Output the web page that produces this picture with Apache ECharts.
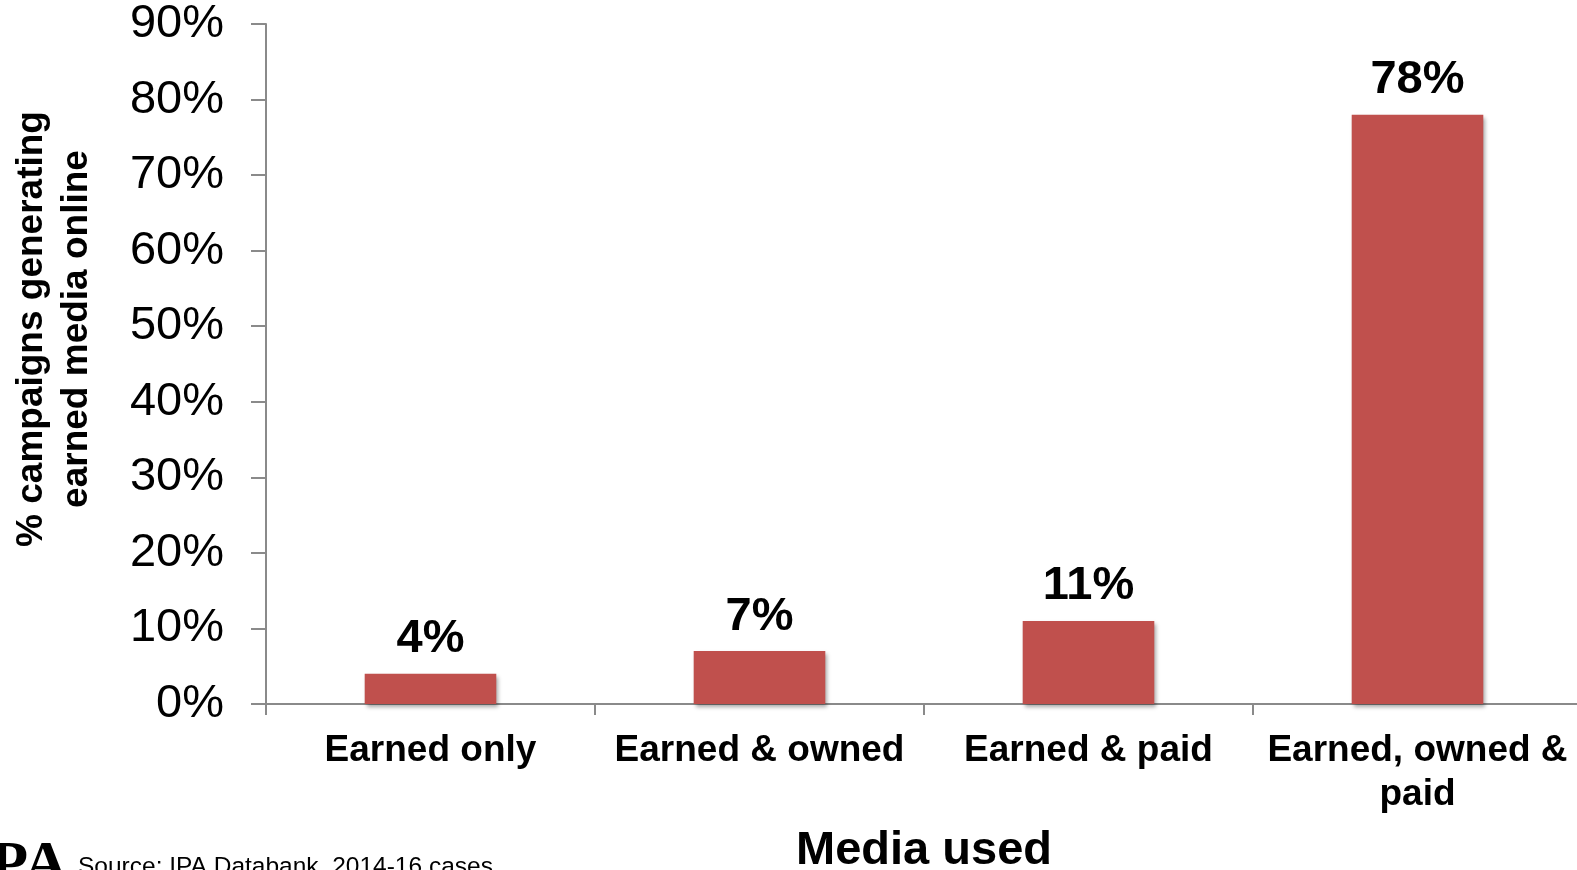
<!DOCTYPE html>
<html>
<head>
<meta charset="utf-8">
<script src="https://cdn.jsdelivr.net/npm/echarts@6/dist/echarts.min.js"></script>
<style>
  html, body { margin: 0; padding: 0; background: #fff; }
  #chart { width: 1577px; height: 870px; }
</style>
</head>
<body>
<div id="chart"></div>
<script>
// Media mix categories and the share of campaigns generating earned media online
const categories = ['Earned only', 'Earned & owned', 'Earned & paid', 'Earned, owned &\npaid'];
const shareValues = [4, 7, 11, 78];
const yTicks = { min: 0, max: 90, interval: 10 };

const FONT = '"Liberation Sans", Arial, Helvetica, sans-serif';
const AXIS_GREY = '#8a8a8a';

const chart = echarts.init(document.getElementById('chart'), null, { renderer: 'canvas' });

chart.setOption({
  backgroundColor: '#ffffff',
  animation: false,
  grid: {
    left: 266, right: -5, top: 24, bottom: 166,
    containLabel: false,
    outerBoundsMode: 'none'
  },
  xAxis: {
    type: 'category',
    data: categories,
    boundaryGap: true,
    axisLine: { show: true, lineStyle: { color: AXIS_GREY, width: 2 } },
    axisTick: { show: true, length: 11, lineStyle: { color: AXIS_GREY, width: 2 } },
    axisLabel: {
      margin: 25,
      interval: 0,
      color: '#000',
      fontFamily: FONT,
      fontWeight: 'bold',
      fontSize: 37,
      lineHeight: 44
    },
    name: 'Media used',
    nameLocation: 'middle',
    nameGap: 124,
    nameTextStyle: {
      color: '#000',
      fontFamily: FONT,
      fontWeight: 'bold',
      fontSize: 47,
      lineHeight: 47
    },
    splitLine: { show: false }
  },
  yAxis: {
    type: 'value',
    min: yTicks.min,
    max: yTicks.max,
    interval: yTicks.interval,
    axisLine: { show: true, lineStyle: { color: AXIS_GREY, width: 2 } },
    axisTick: { show: true, length: 15, lineStyle: { color: AXIS_GREY, width: 2 } },
    axisLabel: {
      formatter: '{value}%',
      margin: 42,
      color: '#000',
      fontFamily: FONT,
      fontSize: 47
    },
    splitLine: { show: false }
  },
  series: [{
    type: 'bar',
    data: shareValues,
    barWidth: '40%',
    itemStyle: {
      color: '#c0504d',
      shadowColor: 'rgba(0,0,0,0.35)',
      shadowBlur: 4,
      shadowOffsetX: 2,
      shadowOffsetY: 3
    },
    label: {
      show: true,
      position: 'top',
      distance: 11,
      formatter: '{c}%',
      color: '#000',
      fontFamily: FONT,
      fontWeight: 'bold',
      fontSize: 47,
      lineHeight: 47
    }
  }],
  graphic: [
    {
      type: 'text',
      x: 54,
      y: 329,
      rotation: Math.PI / 2,
      style: {
        text: '% campaigns generating\nearned media online',
        fontFamily: FONT,
        fontWeight: 'bold',
        fontSize: 37,
        lineHeight: 45,
        fill: '#000',
        align: 'center',
        verticalAlign: 'middle'
      }
    },
    {
      type: 'text',
      x: -34,
      y: 836,
      style: {
        text: 'IPA',
        fontFamily: '"Liberation Serif", "DejaVu Serif", serif',
        fontWeight: 'bold',
        fontSize: 62,
        fill: '#000',
        align: 'left',
        verticalAlign: 'top'
      }
    },
    {
      type: 'text',
      x: 78,
      y: 855,
      style: {
        text: 'Source: IPA Databank, 2014-16 cases',
        fontFamily: FONT,
        fontSize: 24.5,
        fill: '#000',
        align: 'left',
        verticalAlign: 'top'
      }
    }
  ]
});
</script>
</body>
</html>
